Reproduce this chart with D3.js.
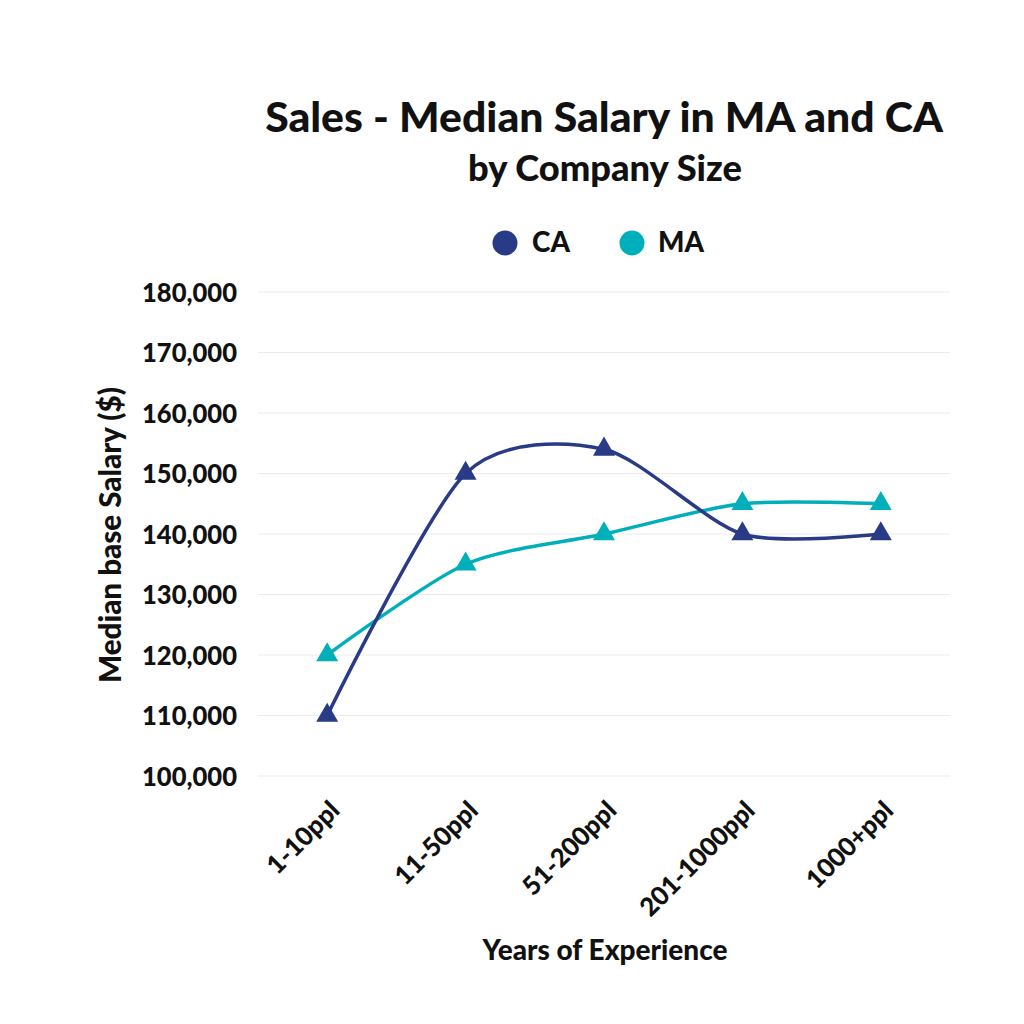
<!DOCTYPE html>
<html><head><meta charset="utf-8">
<script src="https://cdn.jsdelivr.net/npm/d3@7"></script>
<style>
body{margin:0;background:#fff;}
text{font-family:"Lato","Inter",sans-serif;font-weight:900;fill:#111;}
</style></head>
<body><svg id="c" width="1024" height="1024"></svg>
<script>
const categories = ["1-10ppl","11-50ppl","51-200ppl","201-1000ppl","1000+ppl"];
const caValues = [110000,150000,154000,140000,140000];
const maValues = [120000,135000,140000,145000,145000];
const yTicks = [100000,110000,120000,130000,140000,150000,160000,170000,180000];
const seriesNames = ["CA","MA"];
const colors = {CA:"#293a87", MA:"#00afb9"};

const svg = d3.select("#c");
const m = {left:258, right:950, top:292, bottom:776};
const x = d3.scaleBand().domain(categories).range([m.left,m.right]);
const y = d3.scaleLinear().domain([100000,180000]).range([m.bottom,m.top]);

function fit(sel, w){ const l = sel.node().getComputedTextLength(); const fs = parseFloat(sel.attr("font-size")); sel.attr("font-size", fs*w/l); }

// title
const t1 = svg.append("text").attr("x",604).attr("y",132).attr("text-anchor","middle").attr("font-size",38).text("Sales - Median Salary in MA and CA");
fit(t1,678);
const t2 = svg.append("text").attr("x",605).attr("y",181).attr("text-anchor","middle").attr("font-size",28).text("by Company Size");
fit(t2,274);

// legend
const lg = [{n:"CA",cx:505,tx:532,w:38},{n:"MA",cx:632,tx:658,w:46}];
lg.forEach(d=>{
  svg.append("circle").attr("cx",d.cx).attr("cy",243).attr("r",12.5).attr("fill",colors[d.n]);
  const t = svg.append("text").attr("x",d.tx).attr("y",252).attr("font-size",21).text(d.n);
  fit(t,d.w);
});

// grid
svg.append("g").selectAll("line").data(yTicks).join("line")
  .attr("x1",m.left).attr("x2",m.right).attr("y1",d=>y(d)).attr("y2",d=>y(d))
  .attr("stroke","#ebebeb").attr("stroke-width",1);

// y axis
const yAxis = svg.append("g").attr("transform",`translate(${m.left},0)`)
  .call(d3.axisLeft(y).tickValues(yTicks).tickFormat(d3.format(",")).tickSize(0).tickPadding(21));
yAxis.select(".domain").remove();
const yt = yAxis.selectAll("text").attr("font-size",22).attr("font-family","Lato, Inter, sans-serif").attr("font-weight",900).attr("fill","#111").attr("dy","0.36em");
{
  const top = yAxis.selectAll("text").filter(d=>d===180000);
  const l = top.node().getComputedTextLength();
  yt.attr("font-size",22*95/l);
}

// x axis
const xAxis = svg.append("g").attr("transform",`translate(0,${m.bottom})`)
  .call(d3.axisBottom(x).tickSize(0).tickPadding(0));
xAxis.select(".domain").remove();
const xt = xAxis.selectAll("text").attr("font-size",22).attr("font-family","Lato, Inter, sans-serif").attr("font-weight",900).attr("fill","#111")
  .attr("text-anchor","end").attr("dy",0).attr("transform","translate(14,36) rotate(-45)");
{
  const big = xAxis.selectAll("text").filter(d=>d==="201-1000ppl");
  const l = big.node().getComputedTextLength();
  xt.attr("font-size",22*150/l);
}

// axis titles
const xtl = svg.append("text").attr("x",605).attr("y",960).attr("text-anchor","middle").attr("font-size",22).text("Years of Experience");
fit(xtl,245);
const ytl = svg.append("text").attr("transform","translate(121,535) rotate(-90)").attr("text-anchor","middle").attr("font-size",22).text("Median base Salary ($)");
fit(ytl,296);

// lines
const line = d3.line().x((d,i)=>x(categories[i])+x.bandwidth()/2).y(d=>y(d)).curve(d3.curveCardinal.tension(0.2));
const data = {CA:caValues, MA:maValues};
["MA","CA"].forEach(n=>{
  svg.append("path").attr("d",line(data[n])).attr("fill","none").attr("stroke",colors[n]).attr("stroke-width",3.5);
});
const tri = d3.symbol().type(d3.symbolTriangle).size(210);
["MA","CA"].forEach(n=>{
  svg.append("g").selectAll("path").data(data[n]).join("path")
    .attr("d",tri).attr("fill",colors[n])
    .attr("transform",(d,i)=>`translate(${x(categories[i])+x.bandwidth()/2},${y(d)})`);
});
</script></body></html>
